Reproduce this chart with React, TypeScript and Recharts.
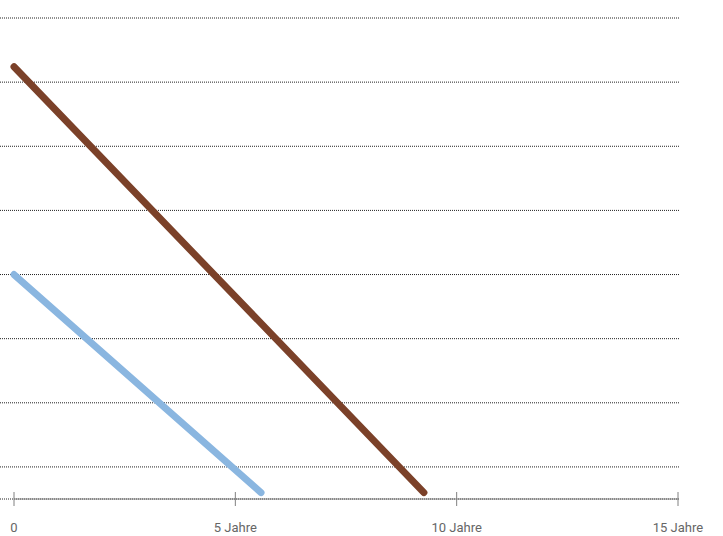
import React from "react";
import { LineChart, Line, XAxis, YAxis, CartesianGrid } from "recharts";

// Jahre (x) und Werte (y) der beiden Linien
const brownYears = [0, 9.26];
const brownValues = [67.4, 1];
const blueYears = [0, 5.58];
const blueValues = [35, 1];

const xTicks = [0, 5, 10, 15];
const xTickLabels = ["0", "5 Jahre", "10 Jahre", "15 Jahre"];
const gridValues = [5, 15, 25, 35, 45, 55, 65, 75];

const brownData = brownYears.map((x, i) => ({ x, y: brownValues[i] }));
const blueData = blueYears.map((x, i) => ({ x, y: blueValues[i] }));

const renderTick = (props) => {
    const { x, y, payload } = props;
    const idx = xTicks.indexOf(payload.value);
    return (
        <g>
            <line x1={x} x2={x} y1={y - 14} y2={y} stroke="#808080" strokeWidth={1} />
            <text
                x={x}
                y={y + 26}
                textAnchor="middle"
                fill="#666"
                fontSize={13}
                fontFamily="Roboto, sans-serif"
            >
                {xTickLabels[idx]}
            </text>
        </g>
    );
};

// gridlines reach past the plot area on both sides
const renderGridLine = (props) => {
    const { y1, y2, key } = props;
    return (
        <line
            key={key}
            x1={0}
            x2={680}
            y1={y1}
            y2={y2}
            stroke="#222"
            strokeWidth={1}
            strokeDasharray="1 1"
        />
    );
};

export default function App() {
    return (
        <div style={{ position: "absolute", left: 0, top: 0 }}>
            <LineChart
                width={723}
                height={536}
                margin={{ top: 18, right: 45, bottom: 7, left: 14 }}
            >
                <CartesianGrid vertical={false} horizontal={renderGridLine} />
                <XAxis
                    dataKey="x"
                    type="number"
                    domain={[0, 15]}
                    ticks={xTicks}
                    height={30}
                    tickSize={7}
                    tickMargin={0}
                    tickLine={false}
                    axisLine={{ stroke: "#808080", strokeWidth: 1 }}
                    tick={renderTick}
                    interval={0}
                />
                <YAxis hide type="number" domain={[0, 75]} ticks={gridValues} />
                <Line
                    data={brownData}
                    dataKey="y"
                    type="linear"
                    stroke="#7B4129"
                    strokeWidth={7}
                    strokeLinecap="round"
                    dot={false}
                    isAnimationActive={false}
                />
                <Line
                    data={blueData}
                    dataKey="y"
                    type="linear"
                    stroke="#8AB6E0"
                    strokeWidth={7}
                    strokeLinecap="round"
                    dot={false}
                    isAnimationActive={false}
                />
            </LineChart>
        </div>
    );
}
